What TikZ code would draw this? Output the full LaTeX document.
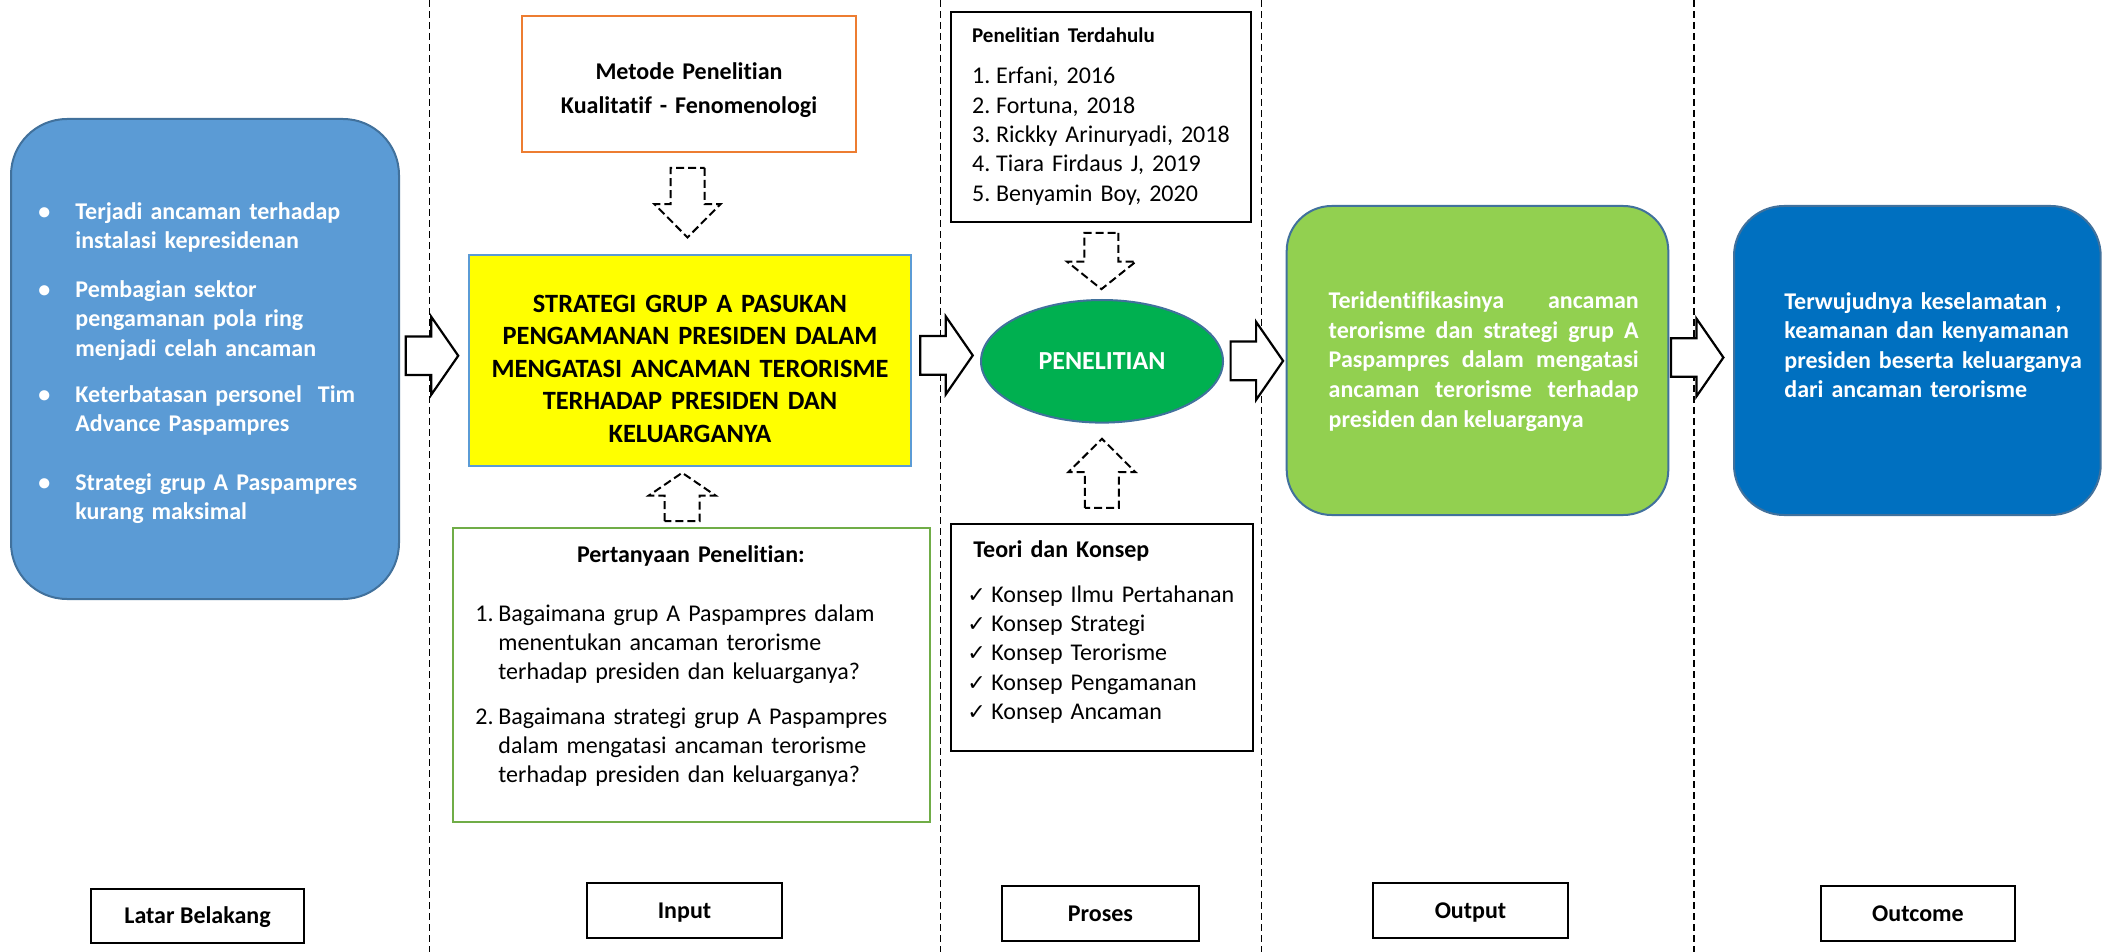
\documentclass[tikz,border=0pt]{standalone}
\usepackage{fontspec}
\setmainfont{Carlito}[Ligatures=NoCommon]
\newfontfamily\simbol{DejaVu Sans}
\usetikzlibrary{shapes.geometric,calc}
\frenchspacing

\definecolor{birumuda}{HTML}{5B9BD5}
\definecolor{garisbiru}{HTML}{41719C}
\definecolor{oranye}{HTML}{ED7D31}
\definecolor{kuning}{HTML}{FFFF00}
\definecolor{hijaugaris}{HTML}{70AD47}
\definecolor{hijautua}{HTML}{00B050}
\definecolor{hijaumuda}{HTML}{92D050}
\definecolor{birutua}{HTML}{0070C0}

\tikzset{
  kotak/.style={draw, line width=1pt, inner sep=0pt, fill=white},
  bulat/.style={draw=garisbiru, line width=1pt, inner sep=0pt, rounded corners=#1},
  kotakbawah/.style={kotak, font=\fontsize{12}{14}\selectfont\bfseries, text height=7.7pt, text depth=0pt},
  teks/.style={inner sep=0pt, anchor=north west, align=left},
  pembatas/.style={line width=0.6pt, dash pattern=on 3.5pt off 2pt},
  blok/.style={draw=black, fill=white, line width=1.1pt},
  putus/.style={draw=black, fill=white, line width=1pt, dash pattern=on 4pt off 2pt},
}

% isi daftar
\newcommand{\butir}[1]{\noindent\hangindent=18.5pt\hangafter=1\strut\makebox[18.5pt][l]{\textbullet}#1\par}
\newcommand{\nomor}[3]{\noindent\hangindent=#1\hangafter=1\makebox[#1][l]{#2}#3\par}
\newcommand{\cek}[1]{\noindent\makebox[12pt][l]{\simbol\fontsize{11}{11}\selectfont ✓}#1\par}

% panah blok: gaya, posisi, sudut, panjang, panjang kepala, setengah batang, setengah kepala
\newcommand{\panah}[7]{%
  \draw[#1, shift={#2}, rotate=#3]
    ({-#4/2},-#6) -- ({#4/2-#5},-#6) -- ({#4/2-#5},-#7) -- ({#4/2},0)
    -- ({#4/2-#5},#7) -- ({#4/2-#5},#6) -- ({-#4/2},#6) -- cycle;}

\begin{document}
\begin{tikzpicture}[x=0.5pt, y=-0.5pt]
\fill[white] (0,0) rectangle (2111,952);
\useasboundingbox (0,0) rectangle (2111,952);

% garis pembatas kolom
\foreach \x in {429.6,940.5,1261.7,1694}
  \draw[pembatas] (\x,0) -- (\x,952);

% latar belakang
\node[bulat=28pt, fill=birumuda, minimum width=194pt, minimum height=240pt] (latar) at (205,359) {};
\node[teks, text width=170pt, text=white, font=\fontsize{12}{14.75}\selectfont\bfseries] (tlatar) at (38,198.4) {%
\butir{Terjadi ancaman terhadap\newline instalasi kepresidenan}
\vspace{9.5pt}
\butir{Pembagian sektor\newline pengamanan pola ring\newline menjadi celah ancaman}
\vspace{8.25pt}
\butir{Keterbatasan personel\ \ Tim\newline Advance Paspampres}
\vspace{14.5pt}
\butir{Strategi grup A Paspampres\newline kurang maksimal}};

% input
\node[kotak, draw=oranye, minimum width=167pt, minimum height=68.3pt] (metode) at (689,84) {};
\node[teks, anchor=north, align=center, text width=165pt, font=\fontsize{12}{17}\selectfont\bfseries] (tmetode) at (689,55.2) {\strut Metode Penelitian\\Kualitatif - Fenomenologi};

\node[kotak, draw=birumuda, fill=kuning, minimum width=221pt, minimum height=105.5pt] (judul) at (690,360.5) {};
\node[teks, anchor=north, align=center, text width=225pt, font=\fontsize{13.2}{16.25}\selectfont\bfseries] (tjudul) at (690,289) {\strut STRATEGI GRUP A PASUKAN\\PENGAMANAN PRESIDEN DALAM\\MENGATASI ANCAMAN TERORISME\\TERHADAP PRESIDEN DAN\\KELUARGANYA};

\node[kotak, draw=hijaugaris, minimum width=238.65pt, minimum height=146.85pt] (tanya) at (691.35,674.85) {};
\node[teks, text width=215.5pt, font=\fontsize{12}{14.65}\selectfont] (ttanya) at (475,541.2) {%
{\centering\bfseries\strut Pertanyaan Penelitian:\par}
\vspace{14.85pt}
\nomor{11.5pt}{1.}{Bagaimana grup A Paspampres dalam\newline menentukan ancaman terorisme\newline terhadap presiden dan keluarganya?}
\vspace{7.5pt}
\nomor{11.5pt}{2.}{Bagaimana strategi grup A Paspampres\newline dalam mengatasi ancaman terorisme\newline terhadap presiden dan keluarganya?}};

% proses
\node[kotak, minimum width=150.15pt, minimum height=104.85pt] (terdahulu) at (1100.85,117.15) {};
\node[teks, text width=140pt, font=\fontsize{12}{14.7}\selectfont] (tterdahulu) at (971.7,21.1) {%
{\fontsize{10.5}{14.7}\selectfont\bfseries\strut Penelitian Terdahulu\par}
\vspace{6.1pt}
\nomor{12pt}{1.}{Erfani, 2016}
\nomor{12pt}{2.}{Fortuna, 2018}
\nomor{12pt}{3.}{Rickky Arinuryadi, 2018}
\nomor{12pt}{4.}{Tiara Firdaus J, 2019}
\nomor{12pt}{5.}{Benyamin Boy, 2020}};

\node[ellipse, draw=garisbiru, fill=hijautua, line width=1pt, minimum width=121pt, minimum height=61.3pt, inner sep=0pt, text=white, font=\fontsize{13}{15}\selectfont\bfseries] (penelitian) at (1102,361.3) {PENELITIAN};

\node[kotak, minimum width=151.15pt, minimum height=113.35pt] (teori) at (1101.85,637.35) {};
\node[teks, text width=145pt, font=\fontsize{12}{14.7}\selectfont] (tteori) at (967,536.7) {%
{\hspace*{3pt}\bfseries\strut Teori dan Konsep\par}
\vspace{7.5pt}
\cek{Konsep Ilmu Pertahanan}
\cek{Konsep Strategi}
\cek{Konsep Terorisme}
\cek{Konsep Pengamanan}
\cek{Konsep Ancaman}};

% output dan outcome
\node[bulat=22.5pt, fill=hijaumuda, minimum width=190.8pt, minimum height=154.5pt] (output) at (1477.5,360.5) {};
\node[teks, text width=155pt, align=justify, text=white, font=\fontsize{12}{14.8}\selectfont\bfseries] (toutput) at (1328.3,287.6) {\sloppy\strut Teridentifikasinya ancaman\linebreak terorisme dan strategi grup A\linebreak Paspampres dalam mengatasi\linebreak ancaman terorisme terhadap\linebreak presiden dan keluarganya};

\node[bulat=25pt, fill=birutua, minimum width=183.35pt, minimum height=154.5pt] (outcome) at (1917.35,360.5) {};
\node[teks, text width=160pt, text=white, font=\fontsize{12}{14.6}\selectfont\bfseries] (toutcome) at (1784,288.9) {\strut Terwujudnya keselamatan ,\\keamanan dan kenyamanan\\presiden beserta keluarganya\\dari ancaman terorisme};

% panah antar kolom
\panah{blok}{($(latar.east)!.5!(judul.west)+(-2,-4)$)}{0}{52.5}{27}{19.3}{39}
\panah{blok}{($(judul.east)!.5!(penelitian.west)+(0.5,-5.5)$)}{0}{52.5}{27}{19.3}{39}
\panah{blok}{($(penelitian.east)!.5!(output.west)+(2,0)$)}{0}{52.5}{27}{19.3}{39}
\panah{blok}{($(output.east)!.5!(outcome.west)+(-4,-3)$)}{0}{52.5}{27}{19.3}{39}

% panah putus-putus
\panah{putus}{($(metode.south)!.5!(judul.north)+(-2,-1)$)}{-90}{69.6}{33.3}{17}{33}
\panah{putus}{($(judul.south)!.5!(tanya.north)+(-8.5,0)$)}{90}{48.4}{22.7}{17.5}{33.3}
\panah{putus}{($(terdahulu.south)!.5!(penelitian.north)$)}{-90}{56.3}{27.6}{17}{34.5}
\panah{putus}{($(penelitian.south)!.5!(teori.north)$)}{90}{69}{33.4}{17}{33.6}

% label kolom
\node[kotakbawah, minimum width=106.5pt, minimum height=27pt] (lblatar) at (197.5,916) {Latar Belakang};
\node[kotakbawah, minimum width=97.5pt, minimum height=27.5pt] (lbinput) at (684.5,910.5) {Input};
\node[kotakbawah, minimum width=98.5pt, minimum height=27.5pt] (lbproses) at (1100.5,913.5) {Proses};
\node[kotakbawah, minimum width=97.5pt, minimum height=27.5pt] (lboutput) at (1470.5,910.5) {Output};
\node[kotakbawah, minimum width=97pt, minimum height=27.5pt] (lboutcome) at (1918,913.5) {Outcome};
\end{tikzpicture}
\end{document}
